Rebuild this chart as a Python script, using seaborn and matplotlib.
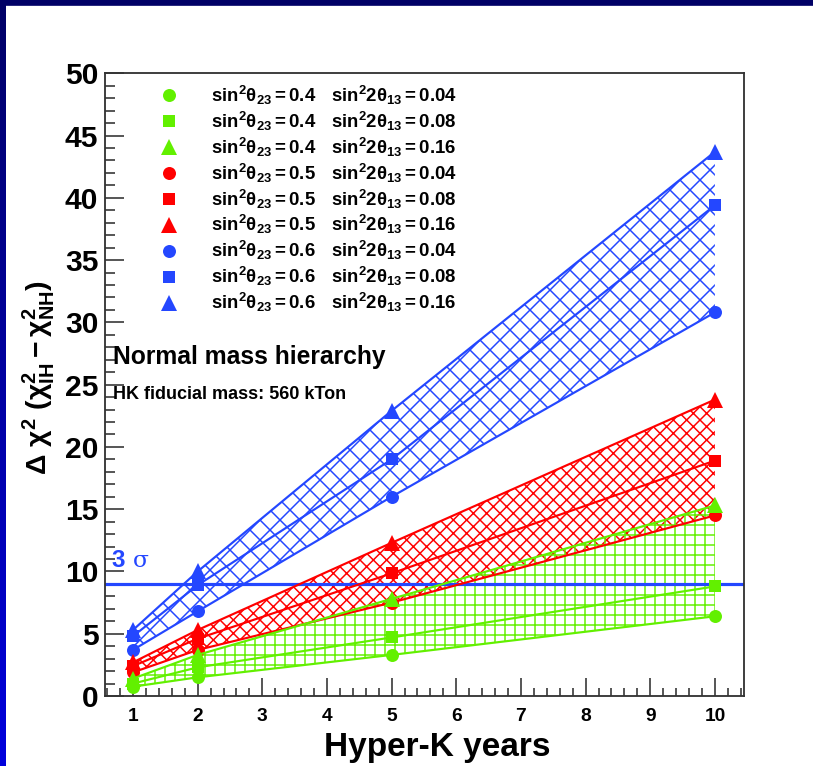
import numpy as np
import pandas as pd
import matplotlib
matplotlib.use("Agg")
import matplotlib.pyplot as plt
from matplotlib.lines import Line2D
from matplotlib.patches import Rectangle
import seaborn as sns

# data
years = [1, 2, 5, 10]
sin2_23 = [0.4, 0.5, 0.6]
sin2_2_13 = [0.04, 0.08, 0.16]

dchi2_04_004 = [0.75, 1.5, 3.3, 6.4]
dchi2_04_008 = [1.0, 2.3, 4.7, 8.8]
dchi2_04_016 = [1.4, 3.3, 7.8, 15.3]
dchi2_05_004 = [1.9, 3.7, 7.5, 14.5]
dchi2_05_008 = [2.4, 4.6, 9.85, 18.9]
dchi2_05_016 = [2.7, 5.3, 12.3, 23.8]
dchi2_06_004 = [3.7, 6.8, 16.0, 30.8]
dchi2_06_008 = [4.8, 8.9, 19.0, 39.4]
dchi2_06_016 = [5.3, 10.0, 22.9, 43.7]

three_sigma = 9.0

colors = {0.4: "#62f000", 0.5: "#ff0000", 0.6: "#2447ff"}
markers = {0.04: "o", 0.08: "s", 0.16: "^"}
msizes = {0.04: 7.8, 0.08: 7.4, 0.16: 10.0}
hatches = {0.4: "++", 0.5: "xxx", 0.6: "xx"}

series = {
    (0.4, 0.04): dchi2_04_004, (0.4, 0.08): dchi2_04_008, (0.4, 0.16): dchi2_04_016,
    (0.5, 0.04): dchi2_05_004, (0.5, 0.08): dchi2_05_008, (0.5, 0.16): dchi2_05_016,
    (0.6, 0.04): dchi2_06_004, (0.6, 0.08): dchi2_06_008, (0.6, 0.16): dchi2_06_016,
}

rows = []
for (s23, s13), vals in series.items():
    for yr, v in zip(years, vals):
        rows.append({"year": yr, "dchi2": v, "s23": s23, "s13": s13})
df = pd.DataFrame(rows)

plt.rcParams["font.family"] = ["Liberation Sans", "DejaVu Sans"]
plt.rcParams["font.weight"] = "bold"
plt.rcParams["mathtext.fontset"] = "custom"
plt.rcParams["mathtext.rm"] = "Liberation Sans:bold"
plt.rcParams["mathtext.it"] = "Liberation Sans:bold"
plt.rcParams["mathtext.bf"] = "Liberation Sans:bold"
plt.rcParams["mathtext.default"] = "bf"
plt.rcParams["hatch.linewidth"] = 0.9

DPI = 120
fig = plt.figure(figsize=(813 / DPI, 766 / DPI), dpi=DPI)
fig.patch.set_facecolor("white")
ax = fig.add_axes([105 / 813, 1 - 696 / 766, 639 / 813, 622.7 / 766])

# hatched bands between smallest and largest theta13 for each theta23
for s23 in [0.6, 0.5, 0.4]:
    lo = df[(df.s23 == s23) & (df.s13 == 0.04)].sort_values("year")
    hi = df[(df.s23 == s23) & (df.s13 == 0.16)].sort_values("year")
    ax.fill_between(lo.year, lo.dchi2, hi.dchi2.values, facecolor="none",
                    edgecolor=colors[s23], hatch=hatches[s23], linewidth=0, zorder=1)

ax.axhline(three_sigma, color="#2447ff", lw=1.9, zorder=2)
ax.text(0.67, 10.85, "3", color="#2447ff", fontsize=14.5, fontweight="bold", va="center")
ax.text(1.0, 10.85, "σ", color="#2447ff", fontsize=14, fontweight="normal",
        family="DejaVu Serif", va="center")

for s23 in [0.6, 0.5, 0.4]:
    for s13 in sin2_2_13:
        sub = df[(df.s23 == s23) & (df.s13 == s13)]
        sns.lineplot(data=sub, x="year", y="dchi2", color=colors[s23], lw=1.3,
                     marker=markers[s13], markersize=msizes[s13], markeredgewidth=0,
                     legend=False, ax=ax, zorder=3)

handles, labels = [], []
for s23 in sin2_23:
    for s13 in sin2_2_13:
        handles.append(Line2D([], [], ls="none", marker=markers[s13], color=colors[s23],
                              markersize=msizes[s13], markeredgewidth=0))
        labels.append(r"$sin^2\theta_{23} = %s\ \ \ sin^2 2\theta_{13} = %s$" % (s23, s13))
leg = ax.legend(handles, labels, loc="upper left", bbox_to_anchor=(0.086, 0.983),
                frameon=False, fontsize=11.2, handlelength=0.95, handletextpad=1.8,
                labelspacing=0.15, borderpad=0, borderaxespad=0)

ax.text(0.013, 0.545, "Normal mass hierarchy", transform=ax.transAxes, fontsize=14.8,
        fontweight="bold", va="center")
ax.text(0.013, 0.484, "HK fiducial mass: 560 kTon", transform=ax.transAxes, fontsize=10.8,
        fontweight="bold", va="center")

ax.set_xlim(0.567, 10.45)
ax.set_ylim(0, 50)
ax.set_xticks([1, 2, 3, 4, 5, 6, 7, 8, 9, 10])
ax.set_xticks(np.arange(0.6, 10.45, 0.2), minor=True)
ax.set_yticks(np.arange(0, 51, 5))
ax.set_yticks(np.arange(0, 51, 1), minor=True)
ax.tick_params(axis="both", which="both", direction="in", width=0.9, color="#222222")
ax.tick_params(axis="y", which="major", length=11.4, labelsize=18, pad=4)
ax.tick_params(axis="y", which="minor", length=6)
ax.tick_params(axis="x", which="major", length=11, labelsize=11.5, pad=7)
ax.tick_params(axis="x", which="minor", length=5)
for lab in ax.get_xticklabels() + ax.get_yticklabels():
    lab.set_fontweight("bold")
for sp in ax.spines.values():
    sp.set_linewidth(1.1)
    sp.set_color("#333333")

ax.set_xlabel("Hyper-K years", fontsize=20, fontweight="bold")
ax.xaxis.set_label_coords(0.52, -0.058)
ax.set_ylabel(r"$\Delta\ \chi^2\ (\chi^2_{IH} - \chi^2_{NH})$", fontsize=17)
ax.yaxis.set_label_coords(-0.075, 0.512)

# presentation frame: dark bar on top, gradient bar on the left
fig.patches.append(Rectangle((0, 1 - 5 / 766), 1, 5 / 766, transform=fig.transFigure,
                             color="#000066", zorder=10))
side = fig.add_axes([0, 0, 6 / 813, 1])
grad = np.linspace(0, 1, 256)[:, None]
side.imshow(grad, aspect="auto", cmap=matplotlib.colors.LinearSegmentedColormap.from_list(
    "frame", ["#000066", "#0000dd"]))
side.set_axis_off()

fig.savefig("out.png", dpi=DPI)
